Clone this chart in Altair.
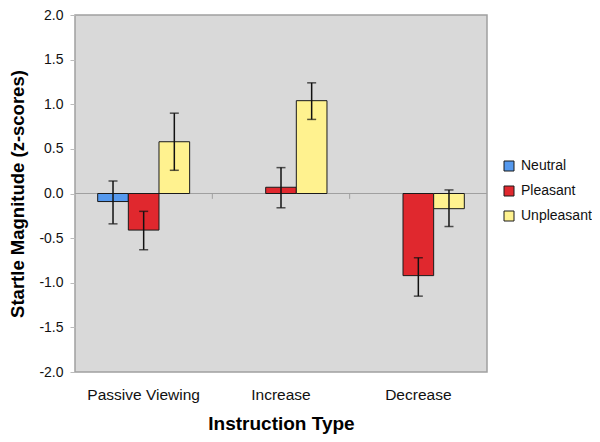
import altair as alt
import pandas as pd

instructions = ["Passive Viewing", "Passive Viewing", "Passive Viewing",
                "Increase", "Increase",
                "Decrease", "Decrease"]
conditions = ["Neutral", "Pleasant", "Unpleasant",
              "Pleasant", "Unpleasant",
              "Pleasant", "Unpleasant"]
means = [-0.09, -0.41, 0.58, 0.07, 1.04, -0.92, -0.17]
err_hi = [0.14, -0.20, 0.90, 0.29, 1.24, -0.72, 0.04]
err_lo = [-0.34, -0.63, 0.26, -0.16, 0.83, -1.15, -0.37]

cat_order = ["Passive Viewing", "Increase", "Decrease"]
cond_order = ["Neutral", "Pleasant", "Unpleasant"]
cond_colors = ["#5599ee", "#e0282e", "#fff28f"]
y_ticks = [-2, -1.5, -1, -0.5, 0, 0.5, 1, 1.5, 2]
boundary_cats = ["Increase", "Decrease"]

df = pd.DataFrame({"instr": instructions, "cond": conditions, "mean": means,
                   "hi": err_hi, "lo": err_lo})
bdf = pd.DataFrame({"instr": boundary_cats})

FONT = "Liberation Sans"

x_axis = alt.Axis(title="Instruction Type", labelAngle=0, labelFontSize=15.5,
                  labelFont=FONT, labelColor="#111", labelPadding=15,
                  titleFont=FONT, titleFontSize=19, titleFontWeight="bold",
                  titleColor="#000", titlePadding=12, ticks=False, domain=False)
x_scale = alt.Scale(domain=cat_order, paddingInner=0.0, paddingOuter=0.0)


def make_x(**kw):
    return alt.X("instr:N", sort=cat_order, scale=x_scale, axis=x_axis, **kw)


xo = alt.XOffset("cond:N", sort=cond_order,
                 scale=alt.Scale(domain=cond_order, paddingInner=0, paddingOuter=0.74))
y = alt.Y("mean:Q", scale=alt.Scale(domain=[-2, 2], nice=False),
          axis=alt.Axis(title="Startle Magnitude (z-scores)", values=y_ticks,
                        format=".1f", labelExpr="replace(datum.label, '\u2212', '-')",
                        labelFontSize=14, labelFont=FONT, labelColor="#111",
                        labelPadding=7, ticks=True, tickSize=5, tickColor="#bbbbbb",
                        domain=False,
                        titleFont=FONT, titleFontSize=18.5, titleFontWeight="bold",
                        titleColor="#000", titlePadding=11,
                        gridColor="#cacaca", gridWidth=1))

zero = alt.Chart(df).mark_rule(color="#a0a0a0", strokeWidth=1).encode(y=alt.datum(0))

btick = alt.Chart(bdf).mark_rule(color="#a0a0a0", strokeWidth=1).encode(
    x=make_x(bandPosition=0), y=alt.datum(0), y2=alt.datum(-0.06))

bars = alt.Chart(df).mark_bar(stroke="#1a1a1a", strokeWidth=1).encode(
    x=make_x(), xOffset=xo, y=y,
    color=alt.Color("cond:N", sort=cond_order,
                    scale=alt.Scale(domain=cond_order, range=cond_colors),
                    legend=alt.Legend(title=None, symbolType="square", symbolSize=100,
                                      symbolStrokeColor="#1a1a1a", symbolStrokeWidth=1,
                                      labelFont=FONT, labelFontSize=14, labelColor="#111",
                                      labelOffset=5, rowPadding=11,
                                      orient="none", legendX=427, legendY=144)),
)

rules = alt.Chart(df).mark_rule(color="#111", strokeWidth=1.5).encode(
    x=make_x(), xOffset=xo, y="lo:Q", y2="hi:Q")

caps_hi = alt.Chart(df).mark_tick(color="#111", thickness=1.5, size=9).encode(
    x=make_x(), xOffset=xo, y="hi:Q")
caps_lo = alt.Chart(df).mark_tick(color="#111", thickness=1.5, size=9).encode(
    x=make_x(), xOffset=xo, y="lo:Q")

chart = alt.layer(zero, btick, bars, rules, caps_hi, caps_lo).properties(
    width=412, height=357,
    autosize=alt.AutoSizeParams(type="none"),
    padding={"left": 67, "top": 7, "right": 105, "bottom": 62},
).configure_view(fill="#d9d9d9", stroke="#a0a0a0", strokeWidth=1.5)

chart.save("out.html", embed_options={"renderer": "svg", "actions": False})
